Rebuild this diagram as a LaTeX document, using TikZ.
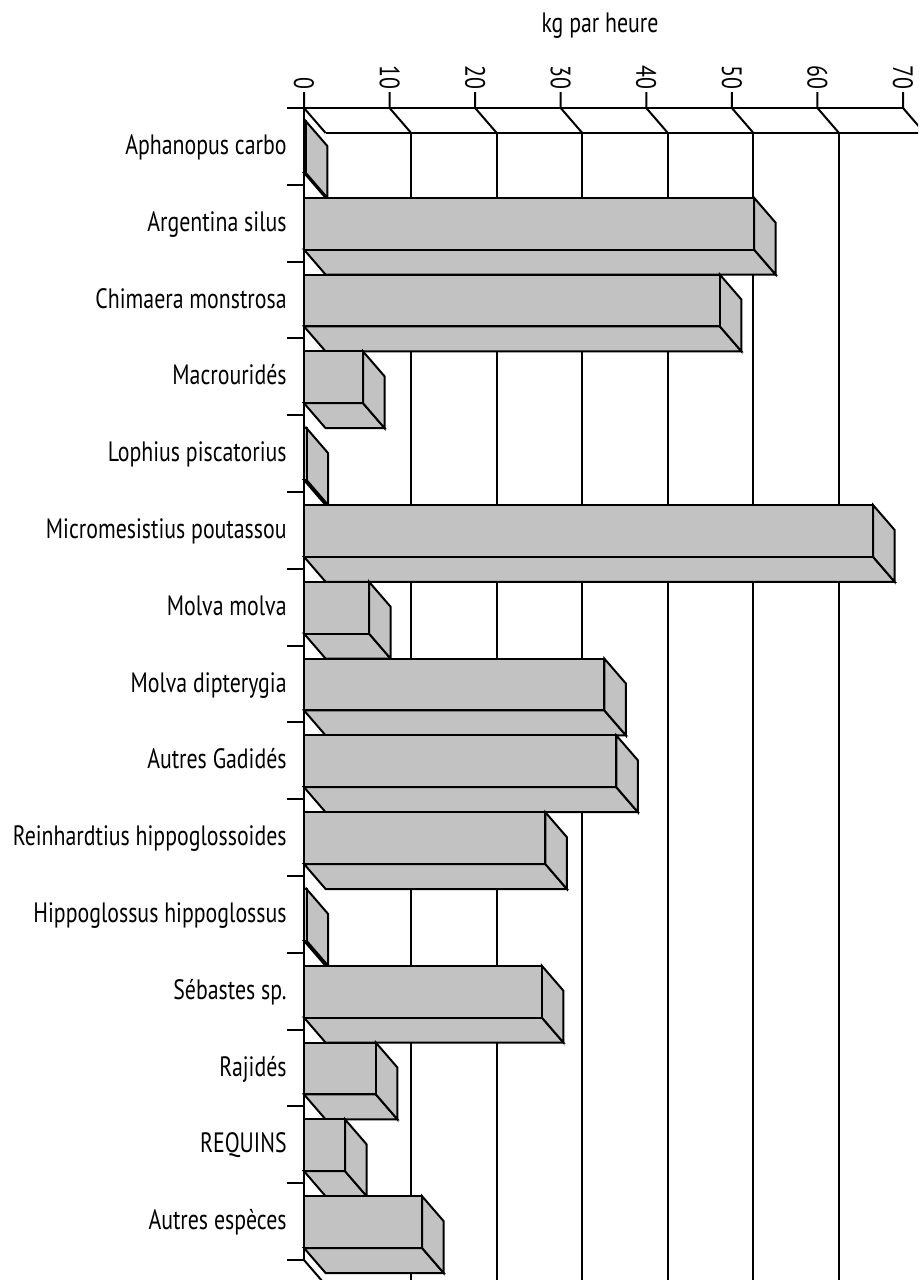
\documentclass[tikz,border=0pt]{standalone}
\usepackage{fontspec}
\setmainfont{PT Sans}[FakeStretch=0.78]
\tikzset{
    % Define style for the faces of the bars
    bloc/.style={
           draw=black, line width=1pt,
           fill=black!24,
           line join=miter},
    % Define style for the frame and grid lines
    trait/.style={
           draw=black, line width=1pt},
    % Define style for the species names
    etiquette/.style={
           anchor=base east, inner sep=0pt,
           font=\fontsize{14}{16}\selectfont},
    % Define style for the values on the axis
    graduation/.style={
           rotate=-90, anchor=east, inner sep=0pt,
           font=\fontsize{14}{16}\selectfont}
}
% origin, kg unit, depth and row step (in pixels)
\newcommand*{\origx}{304}
\newcommand*{\unite}{8.557}
\newcommand*{\profx}{21.6}
\newcommand*{\profy}{25}
\newcommand*{\pas}{76.8}
% one bar: name, row, value, label
\newcommand*{\barre}[4]{%
  \pgfmathsetmacro{\hautb}{108+\pas*(#2-1)+13}
  \pgfmathsetmacro{\basb}{108+\pas*#2-12}
  \pgfmathsetmacro{\finb}{\origx+\unite*#3}
  \filldraw[bloc] (\origx,\basb) -- (\finb,\basb) -- ++(\profx,\profy) -- (\origx+\profx,\basb+\profy) -- cycle;
  \filldraw[bloc] (\finb,\hautb) -- ++(\profx,\profy) -- (\finb+\profx,\basb+\profy) -- (\finb,\basb) -- cycle;
  \filldraw[bloc] (\origx,\hautb) rectangle (\finb,\basb);
  \node[etiquette] (#1) at (287,{108+\pas*(#2-0.5)+8}) {#4};
}

\begin{document}
\begin{tikzpicture}[x=0.5pt,y=-0.5pt]
\clip (0,0) rectangle (918,1280);

% Title of the value axis
\node[etiquette, anchor=base] (titre) at (600,32) {kg par heure};

% Back grid lines first, the bars hide them
\foreach \v in {10,20,...,60}
  \draw[trait] (\origx+\profx+\unite*\v,133) -- ++(0,1200);
\draw[trait] (\origx+\profx,133) -- (940,133);

% Value axis with its ticks and labels
\draw[trait] (287,108) -- (\origx+\unite*70,108);
\foreach \v in {0,10,...,70} {
  \draw[trait] (\origx+\unite*\v,92) -- (\origx+\unite*\v,108) -- ++(\profx,\profy);
  \node[graduation] (g\v) at (\origx+\unite*\v,90) {\v};
}

% Now the bars, one row each
\barre{aph}{1}{0.2}{Aphanopus carbo}
\barre{arg}{2}{52.6}{Argentina silus}
\barre{chi}{3}{48.6}{Chimaera monstrosa}
\barre{mac}{4}{6.9}{Macrouridés}
\barre{lop}{5}{0.3}{Lophius piscatorius}
\barre{mic}{6}{66.5}{Micromesistius poutassou}
\barre{mol}{7}{7.6}{Molva molva}
\barre{dip}{8}{35.1}{Molva dipterygia}
\barre{gad}{9}{36.5}{Autres Gadidés}
\barre{rei}{10}{28.2}{Reinhardtius hippoglossoides}
\barre{hip}{11}{0.3}{Hippoglossus hippoglossus}
\barre{seb}{12}{27.8}{Sébastes sp.}
\barre{raj}{13}{8.4}{Rajidés}
\barre{req}{14}{4.8}{REQUINS}
\barre{aut}{15}{13.8}{Autres espèces}

% Species axis with its ticks
\draw[trait] (\origx,108) -- (\origx,{108+\pas*15});
\foreach \i in {1,...,15}
  \draw[trait] (287,{108+\pas*\i}) -- (\origx,{108+\pas*\i});
\draw[trait] (\origx,{108+\pas*15}) -- ++(\profx,\profy);
\end{tikzpicture}
\end{document}
